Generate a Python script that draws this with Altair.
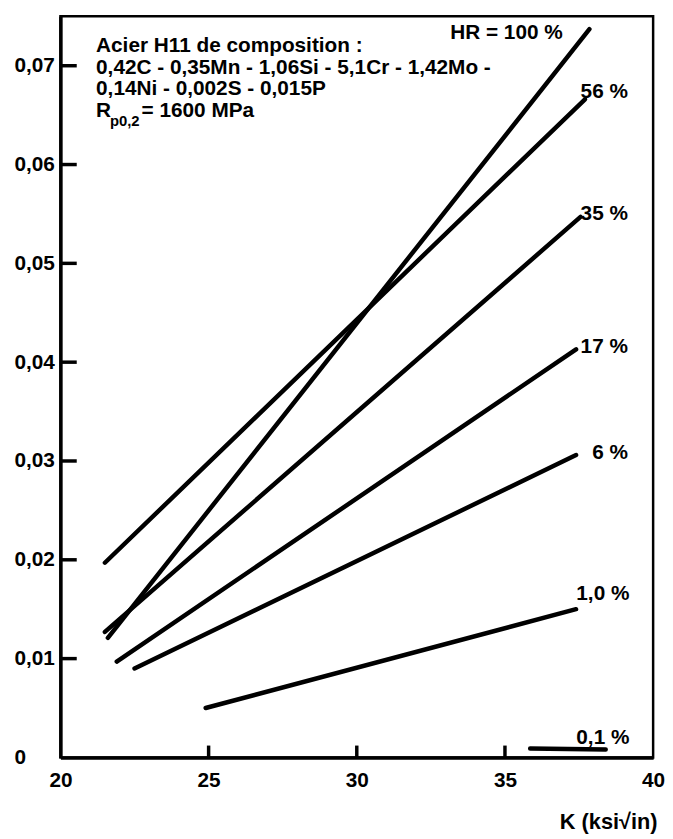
import altair as alt
import pandas as pd

# ---- data ----
series = ["HR = 100 %", "56 %", "35 %", "17 %", "6 %", "1,0 %", "0,1 %"]
k_start = [21.6, 21.5, 21.5, 21.9, 22.5, 24.9, 35.85]
y_start = [0.0121, 0.0197, 0.0127, 0.0097, 0.0090, 0.0050, 0.0009]
k_end = [37.85, 37.7, 37.55, 37.4, 37.4, 37.4, 38.4]
y_end = [0.0737, 0.0666, 0.0547, 0.0413, 0.0306, 0.0150, 0.0008]

label_k = [36.95, 39.15, 39.15, 39.15, 39.15, 39.2, 39.2]
label_y = [0.0733, 0.0673, 0.0550, 0.0415, 0.0308, 0.0165, 0.0020]

y_ticks = [0, 0.01, 0.02, 0.03, 0.04, 0.05, 0.06, 0.07]
x_ticks = [20, 25, 30, 35, 40]
x_inner_ticks = [25, 30, 35]
y_inner_ticks = [0.01, 0.02, 0.03, 0.04, 0.05, 0.06, 0.07]

note_lines = [
    "Acier H11 de composition :",
    "0,42C - 0,35Mn - 1,06Si - 5,1Cr  - 1,42Mo -",
    "0,14Ni - 0,002S - 0,015P",
]

FONT = "Liberation Sans"
W, H = 599, 749
X0, Y0 = 20, 0
YTICK_LEN_K = 0.55      # inward tick length along K (about 16 px)
XTICK_LEN_V = 0.0012    # inward tick length along y (about 12 px)

rows = []
for s, k0, y0, k1, y1 in zip(series, k_start, y_start, k_end, y_end):
    rows.append({"serie": s, "K": k0, "v": y0})
    rows.append({"serie": s, "K": k1, "v": y1})
lines_df = pd.DataFrame(rows)
labels_df = pd.DataFrame({"serie": series, "K": label_k, "v": label_y})

tick_rows = []
for t in y_inner_ticks:
    tick_rows.append({"tid": f"y{t}", "K": X0, "v": t})
    tick_rows.append({"tid": f"y{t}", "K": X0 + YTICK_LEN_K, "v": t})
for t in x_inner_ticks:
    tick_rows.append({"tid": f"x{t}", "K": t, "v": Y0})
    tick_rows.append({"tid": f"x{t}", "K": t, "v": Y0 + XTICK_LEN_V})
ticks_df = pd.DataFrame(tick_rows)

xscale = alt.Scale(domain=[20, 40], nice=False, zero=False)
yscale = alt.Scale(domain=[0, 0.075], nice=False)

xaxis = alt.Axis(
    values=x_ticks, ticks=False, tickSize=0, grid=False, labelFlush=False,
    labelPadding=12, labelFontSize=21, labelFontWeight="bold", labelFont=FONT,
    labelColor="black", domainColor="black", domainWidth=3.5,
    title="K (ksi√in)", titleFont=FONT, titleFontSize=22, titleFontWeight="bold",
    titleColor="black", titleAlign="right", titleAnchor="end", titleX=603,
    titleY=65, titleBaseline="middle",
)
yaxis = alt.Axis(
    values=y_ticks, ticks=False, tickSize=0, grid=False, labelFlush=False,
    labelAlign="left", labelBaseline="middle", labelPadding=47,
    labelExpr="datum.value == 0 ? '0' : replace(format(datum.value, '.2f'), '.', ',')",
    labelFontSize=21, labelFontWeight="bold", labelFont=FONT, labelColor="black",
    domainColor="black", domainWidth=3.5, title=None,
)

lines = alt.Chart(lines_df).mark_line(
    color="black", strokeWidth=4.5, strokeCap="round"
).encode(
    x=alt.X("K:Q", scale=xscale, axis=xaxis),
    y=alt.Y("v:Q", scale=yscale, axis=yaxis),
    detail="serie:N",
)

tick_lines = alt.Chart(ticks_df).mark_line(
    color="black", strokeWidth=3.5
).encode(
    x=alt.X("K:Q", scale=xscale),
    y=alt.Y("v:Q", scale=yscale),
    detail="tid:N",
)

labels = alt.Chart(labels_df).mark_text(
    align="right", baseline="middle", font=FONT, fontSize=21,
    fontWeight="bold", color="black"
).encode(
    x=alt.X("K:Q", scale=xscale),
    y=alt.Y("v:Q", scale=yscale),
    text="serie:N",
)


def txt(t, x, y, size=21):
    return alt.Chart(pd.DataFrame({"t": [t]})).mark_text(
        align="left", baseline="middle", font=FONT, fontSize=size,
        fontWeight="bold", color="black"
    ).encode(x=alt.value(x), y=alt.value(y), text="t:N")


note_layers = [
    txt(note_lines[0], 36, 30),
    txt(note_lines[1], 36, 52),
    txt(note_lines[2], 36, 74),
    txt("R", 36, 96),
    txt("p0,2", 50, 106, 15),
    txt("= 1600 MPa", 82, 96),
]

chart = alt.layer(
    lines, tick_lines, labels, *note_layers
).properties(
    width=W, height=H,
    autosize=alt.AutoSizeParams(type="none"),
    padding={"left": 53, "top": 4, "right": 12, "bottom": 75},
    background="white",
).configure_view(stroke="black", strokeWidth=2.5)

chart.save("out.html", embed_options={"renderer": "svg", "actions": False})
